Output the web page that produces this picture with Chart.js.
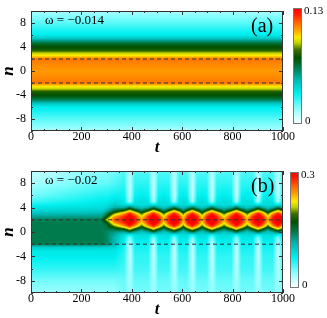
<!DOCTYPE html>
<html>
<head>
<meta charset="utf-8">
<script src="https://cdn.jsdelivr.net/npm/chart.js@4.4.1/dist/chart.umd.min.js"></script>
<style>
    html, body { margin: 0; padding: 0; background: #fff; }
    #wrap { position: relative; width: 327px; height: 318px; }
    canvas { position: absolute; left: 0; }
    #chart-a { top: 0; }
    #chart-b { top: 160px; }
</style>
</head>
<body>
<div id="wrap">
    <canvas id="chart-a" width="327" height="160"></canvas>
    <canvas id="chart-b" width="327" height="158"></canvas>
</div>
<script>
// tick labels
const tTicks = [0, 200, 400, 600, 800, 1000];
const nTicks = [-8, -4, 0, 4, 8];

// panel (a): profile is the same for every t
const nA = [-10, -8, -7, -6, -5.5, -5, -4.5, -4, -3.5, -3, -2.5, -2, -1, 0, 1, 2, 2.5, 3, 3.5, 4, 4.5, 5, 5.5, 6, 7, 8, 10];
const densA = [0.013, 0.023, 0.029, 0.035, 0.044, 0.057, 0.068, 0.074, 0.078, 0.091, 0.099, 0.112, 0.109, 0.107,
    0.109, 0.112, 0.099, 0.091, 0.078, 0.074, 0.068, 0.057, 0.044, 0.035, 0.029, 0.023, 0.013];
const tA = [0, 1000];

// panel (b): profiles over n, read at a few kinds of moments
const nB = [-10, -8, -6, -4, -3, -2.5, -2, -1.5, -1, -0.5, 0, 0.5, 1, 1.5, 2, 2.5, 3, 3.5, 4, 4.5, 5, 6, 8, 10];
const pre0 = [0.035, 0.045, 0.065, 0.08, 0.085, 0.1, 0.145, 0.145, 0.145, 0.145, 0.145, 0.145, 0.145, 0.145, 0.14, 0.125, 0.11, 0.095, 0.085, 0.072, 0.06, 0.045, 0.03, 0.02];
const pre280 = [0.035, 0.045, 0.065, 0.08, 0.085, 0.1, 0.145, 0.145, 0.145, 0.145, 0.145, 0.145, 0.145, 0.145, 0.145, 0.13, 0.115, 0.1, 0.09, 0.085, 0.08, 0.07, 0.05, 0.04];
const tip = [0.035, 0.045, 0.065, 0.08, 0.085, 0.1, 0.14, 0.14, 0.14, 0.14, 0.14, 0.145, 0.15, 0.165, 0.21, 0.17, 0.14, 0.115, 0.095, 0.085, 0.08, 0.07, 0.05, 0.04];
const mid = [0.035, 0.045, 0.065, 0.08, 0.085, 0.095, 0.115, 0.115, 0.115, 0.12, 0.13, 0.155, 0.2, 0.245, 0.27, 0.245, 0.2, 0.15, 0.12, 0.1, 0.09, 0.075, 0.055, 0.045];
const shoulder = [0.045, 0.05, 0.06, 0.065, 0.07, 0.072, 0.075, 0.078, 0.082, 0.09, 0.12, 0.18, 0.25, 0.285, 0.29, 0.285, 0.25, 0.18, 0.12, 0.09, 0.085, 0.075, 0.065, 0.055];
const blob = [0.035, 0.03, 0.025, 0.02, 0.02, 0.02, 0.025, 0.03, 0.04, 0.07, 0.15, 0.22, 0.29, 0.31, 0.33, 0.31, 0.29, 0.22, 0.15, 0.08, 0.03, 0.02, 0.02, 0.025];
const neck = [0.045, 0.05, 0.06, 0.065, 0.07, 0.072, 0.075, 0.08, 0.085, 0.09, 0.105, 0.14, 0.19, 0.225, 0.245, 0.225, 0.19, 0.14, 0.105, 0.09, 0.09, 0.08, 0.065, 0.055];

const tB = [0, 280, 300, 330, 370, 392, 412, 439, 466, 486, 506, 527, 548, 568, 588, 604, 620, 640, 660, 679, 698,
    718, 738, 766, 795, 815, 835, 858, 881, 901, 921, 940, 960, 980, 1000];
const kindB = ["pre0", "pre280", "tip", "mid", "sh",
    "blob", "sh", "neck", "sh", "blob", "sh", "neck", "sh", "blob", "sh", "neck", "sh", "blob", "sh", "neck", "sh",
    "blob", "sh", "neck", "sh", "blob", "sh", "neck", "sh", "blob", "sh", "neck", "sh", "blob", "sh"];

// colour map, white -> cyan -> dark green -> yellow -> red
const cmapStops = [0, 0.12, 0.26, 0.38, 0.48, 0.57, 0.64, 0.70, 0.75, 0.81, 0.88, 0.95, 1];
const cmapColors = [[255, 255, 255], [150, 255, 255], [0, 240, 240], [0, 185, 180], [0, 125, 80], [0, 80, 0],
    [60, 110, 0], [190, 210, 0], [255, 235, 0], [255, 165, 0], [255, 100, 0], [255, 30, 0], [255, 0, 0]];

function colorAt(f) {
    f = Math.max(0, Math.min(1, f));
    for (let i = 0; i < cmapStops.length - 1; i++) {
        if (f <= cmapStops[i + 1]) {
            const k = (f - cmapStops[i]) / (cmapStops[i + 1] - cmapStops[i]);
            const a = cmapColors[i], b = cmapColors[i + 1];
            return [a[0] + (b[0] - a[0]) * k, a[1] + (b[1] - a[1]) * k, a[2] + (b[2] - a[2]) * k];
        }
    }
    return cmapColors[cmapColors.length - 1];
}

// where v falls in a sorted list: [index, fraction]
function locate(arr, v) {
    if (v <= arr[0]) return [0, 0];
    for (let i = 0; i < arr.length - 1; i++) {
        if (v <= arr[i + 1]) return [i, (v - arr[i]) / (arr[i + 1] - arr[i])];
    }
    return [arr.length - 2, 1];
}

function sampleField(field, t, n) {
    const [ci, cf] = locate(field.t, t);
    const [ri, rf] = locate(field.n, n);
    const c0 = field.cols[ci], c1 = field.cols[ci + 1];
    const v0 = c0[ri] + (c0[ri + 1] - c0[ri]) * rf;
    const v1 = c1[ri] + (c1[ri + 1] - c1[ri]) * rf;
    return v0 + (v1 - v0) * cf;
}

function makeHeatPlugin(field) {
    return {
        id: "heat",
        beforeDatasetsDraw(chart) {
            const { ctx, chartArea: a, scales: { x, y } } = chart;
            const x0 = Math.round(a.left), y0 = Math.round(a.top);
            const w = Math.round(a.right) - x0, h = Math.round(a.bottom) - y0;
            const img = ctx.createImageData(w, h);
            for (let j = 0; j < h; j++) {
                const n = y.getValueForPixel(y0 + j + 0.5);
                for (let i = 0; i < w; i++) {
                    const t = x.getValueForPixel(x0 + i + 0.5);
                    const c = colorAt(sampleField(field, t, n) / field.vmax);
                    const p = (j * w + i) * 4;
                    img.data[p] = c[0];
                    img.data[p + 1] = c[1];
                    img.data[p + 2] = c[2];
                    img.data[p + 3] = 255;
                }
            }
            ctx.putImageData(img, x0, y0);
        },
        afterDatasetsDraw(chart) {
            const { ctx, chartArea: a, scales: { x, y } } = chart;
            ctx.save();
            ctx.strokeStyle = "#333";
            ctx.lineWidth = 1;
            ctx.beginPath();
            // minor and major ticks on all four sides, pointing in
            for (let t = 0; t <= 1000; t += 50) {
                const px = Math.round(x.getPixelForValue(t)) + 0.5;
                const len = t % 200 === 0 ? 4 : 2;
                ctx.moveTo(px, a.bottom); ctx.lineTo(px, a.bottom - len);
                ctx.moveTo(px, a.top); ctx.lineTo(px, a.top + len);
            }
            for (let n = -10; n <= 10; n += 2) {
                const py = Math.round(y.getPixelForValue(n)) + 0.5;
                const len = n % 4 === 0 ? 4 : 2;
                ctx.moveTo(a.left, py); ctx.lineTo(a.left + len, py);
                ctx.moveTo(a.right, py); ctx.lineTo(a.right - len, py);
            }
            ctx.stroke();
            ctx.strokeRect(a.left + 0.5, a.top + 0.5, a.right - a.left - 1, a.bottom - a.top - 1);

            // colour bar
            const cb = field.bar;
            for (let j = 0; j < cb.h; j++) {
                const c = colorAt(1 - j / (cb.h - 1));
                ctx.fillStyle = `rgb(${c[0] | 0},${c[1] | 0},${c[2] | 0})`;
                ctx.fillRect(cb.x, cb.y + j, cb.w, 1);
            }
            ctx.strokeStyle = "#777";
            ctx.strokeRect(cb.x + 0.5, cb.y + 0.5, cb.w - 1, cb.h - 1);

            ctx.fillStyle = "#000";
            ctx.textBaseline = "middle";
            ctx.textAlign = "left";
            ctx.font = "11px 'Liberation Serif'";
            ctx.fillText(field.maxLabel, cb.x + cb.w + 2, cb.y + 3);
            ctx.fillText("0", cb.x + cb.w + 3, cb.y + cb.h - 3);

            ctx.font = "13px 'Liberation Serif'";
            ctx.fillText(field.omega, a.left + 14, a.top + 10);
            ctx.font = "20px 'Liberation Serif'";
            ctx.fillText(field.tag, a.right - 32, a.top + 16);
            ctx.restore();
        }
    };
}

function dashed(level) {
    return {
        data: [{ x: 0, y: level }, { x: 1000, y: level }],
        showLine: true,
        borderColor: "#333",
        borderWidth: 1,
        borderDash: [4, 3],
        pointRadius: 0
    };
}

function makePanel(canvasId, field, pad, axisHeight, titlePad) {
    const tickFont = { family: "'Liberation Serif'", size: 12, lineHeight: 1 };
    const titleFont = { family: "'Liberation Serif'", size: 17, style: "italic", weight: "bold", lineHeight: 1 };
    return new Chart(document.getElementById(canvasId), {
        type: "scatter",
        data: { datasets: [dashed(2), dashed(-2)] },
        options: {
            responsive: false,
            animation: false,
            devicePixelRatio: 1,
            layout: { padding: pad },
            plugins: { legend: { display: false }, tooltip: { enabled: false } },
            scales: {
                x: {
                    type: "linear", min: 0, max: 1000,
                    afterBuildTicks: (s) => { s.ticks = tTicks.map((v) => ({ value: v })); },
                    afterFit: (s) => { s.height = axisHeight; },
                    grid: { display: false, drawTicks: false },
                    border: { display: false },
                    ticks: { padding: 0, color: "#000", font: tickFont, maxRotation: 0, autoSkip: false, callback: (v) => String(v) },
                    title: { display: true, text: "t", color: "#000", font: titleFont, padding: { top: 0, bottom: titlePad } }
                },
                y: {
                    type: "linear", min: -10, max: 10,
                    afterBuildTicks: (s) => { s.ticks = nTicks.map((v) => ({ value: v })); },
                    afterFit: (s) => { s.width = 31; },
                    grid: { display: false, drawTicks: false },
                    border: { display: false },
                    ticks: { padding: 5, color: "#000", font: tickFont, callback: (v) => String(v) },
                    title: { display: true, text: "n", color: "#000", font: titleFont, padding: { top: 0, bottom: 0 } }
                }
            }
        },
        plugins: [makeHeatPlugin(field)]
    });
}

document.addEventListener("DOMContentLoaded", () => {
    const profiles = { pre0, pre280, tip, mid, sh: shoulder, blob, neck };

    makePanel("chart-a", {
        t: tA, n: nA, cols: [densA, densA], vmax: 0.13,
        bar: { x: 293, y: 8, w: 9, h: 116 },
        maxLabel: "0.13", omega: "ω = −0.014", tag: "(a)"
    }, { left: 0, right: 44, top: 2, bottom: 0 }, 29, 4);

    makePanel("chart-b", {
        t: tB, n: nB, cols: kindB.map((k) => profiles[k]), vmax: 0.3,
        bar: { x: 290, y: 12, w: 9, h: 116 },
        maxLabel: "0.3", omega: "ω = −0.02", tag: "(b)"
    }, { left: 0, right: 44, top: 4, bottom: 0 }, 25, 0);
});
</script>
</body>
</html>
